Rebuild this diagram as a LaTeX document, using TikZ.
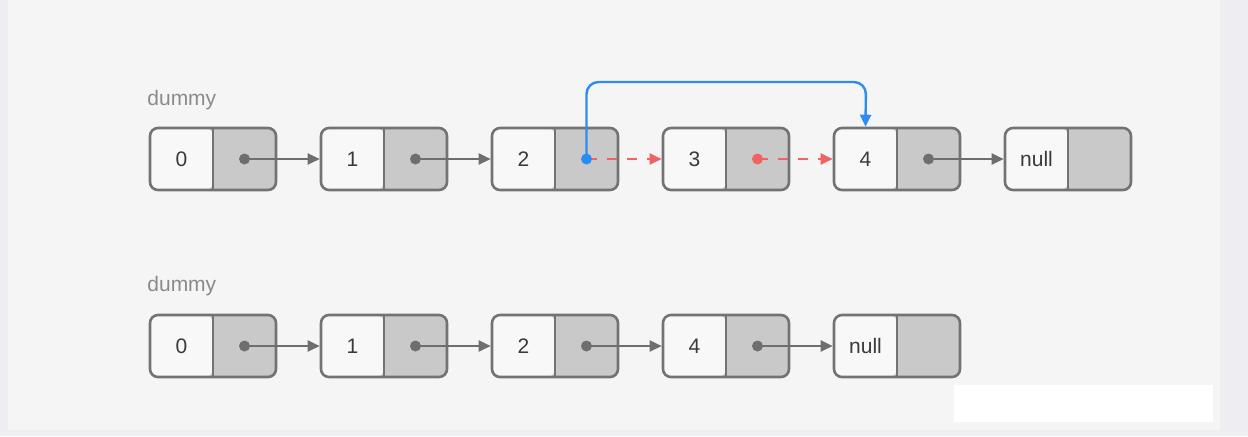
\documentclass[tikz,border=0pt]{standalone}
\usepackage{fontspec}
\setmainfont{Liberation Sans}
\usetikzlibrary{arrows.meta}
\definecolor{outerbg}{HTML}{EEEEF2}
\definecolor{panelbg}{HTML}{F5F5F5}
\definecolor{boxline}{HTML}{737373}
\definecolor{leftfill}{HTML}{F8F8F8}
\definecolor{rightfill}{HTML}{C9C9C9}
\definecolor{ptrgrey}{HTML}{6E6E6E}
\definecolor{ptrblue}{HTML}{2D8CF0}
\definecolor{ptrred}{HTML}{EF6363}
\definecolor{dummytxt}{HTML}{8A8A8A}
\definecolor{valtxt}{HTML}{3A3A3A}
\tikzset{
  llbox/.style={draw=boxline, line width=1.3pt, rounded corners=4pt, fill=rightfill,
    minimum width=63pt, minimum height=31pt, inner sep=0pt,
    path picture={
      \fill[leftfill] (path picture bounding box.south west) rectangle (path picture bounding box.north);
      \draw[boxline, line width=1.3pt] (path picture bounding box.south) -- (path picture bounding box.north);
    }},
  val/.style={text=valtxt, font=\fontsize{10.5}{12}\selectfont, inner sep=0pt},
  dummylbl/.style={text=dummytxt, font=\fontsize{10.5}{12}\selectfont, anchor=west, inner sep=0pt},
  greyarr/.style={draw=ptrgrey, line width=1.1pt, -{Triangle[length=6pt,width=5.5pt]}},
  redarr/.style={draw=ptrred, line width=1.1pt, dash pattern=on 5pt off 5pt, -{Triangle[length=6pt,width=5.5pt]}},
  bluearr/.style={draw=ptrblue, line width=1.2pt, rounded corners=6pt, -{Triangle[length=6pt,width=5.5pt]}},
  dotc/.style={circle, inner sep=0pt, minimum size=5.5pt},
}
\begin{document}
\begin{tikzpicture}[x=0.5pt,y=-0.5pt]
\fill[outerbg] (0,0) rectangle (1248,436);
\fill[panelbg] (8,0) rectangle (1220,430);
\fill[white] (954,385) rectangle (1213,422);
\useasboundingbox (0,0) rectangle (1248,436);

\node[dummylbl] (d1) at (147,100) {dummy};
\node[dummylbl] (d2) at (147,286) {dummy};

% top row
\foreach \i/\v in {0/0,1/1,2/2,3/3,4/4,5/null}{
  \node[llbox] (t\i) at ({213+171*\i},159) {};
  \node[val] (tv\i) at ({181.5+171*\i},159) {\v};
  \coordinate (tp\i) at ({244.5+171*\i},159);
}
% bottom row
\foreach \i/\v in {0/0,1/1,2/2,3/4,4/null}{
  \node[llbox] (b\i) at ({213+171*\i},346) {};
  \node[val] (bv\i) at ({181.5+171*\i},346) {\v};
  \coordinate (bp\i) at ({244.5+171*\i},346);
}

% top arrows
\draw[greyarr] (tp0) -- (t1.west);
\draw[greyarr] (tp1) -- (t2.west);
\draw[redarr] (tp2) -- (t3.west);
\draw[redarr] (tp3) -- (t4.west);
\draw[greyarr] (tp4) -- (t5.west);
\coordinate (bend) at (866,82);
\draw[bluearr] (tp2) |- (bend) -- (tv4 |- t4.north);

% bottom arrows
\draw[greyarr] (bp0) -- (b1.west);
\draw[greyarr] (bp1) -- (b2.west);
\draw[greyarr] (bp2) -- (b3.west);
\draw[greyarr] (bp3) -- (b4.west);

% dots
\foreach \i in {0,1,4}{\node[dotc, fill=ptrgrey] (tdot\i) at (tp\i) {};}
\node[dotc, fill=ptrblue] (tdot2) at (tp2) {};
\node[dotc, fill=ptrred] (tdot3) at (tp3) {};
\foreach \i in {0,1,2,3}{\node[dotc, fill=ptrgrey] (bdot\i) at (bp\i) {};}
\end{tikzpicture}
\end{document}
